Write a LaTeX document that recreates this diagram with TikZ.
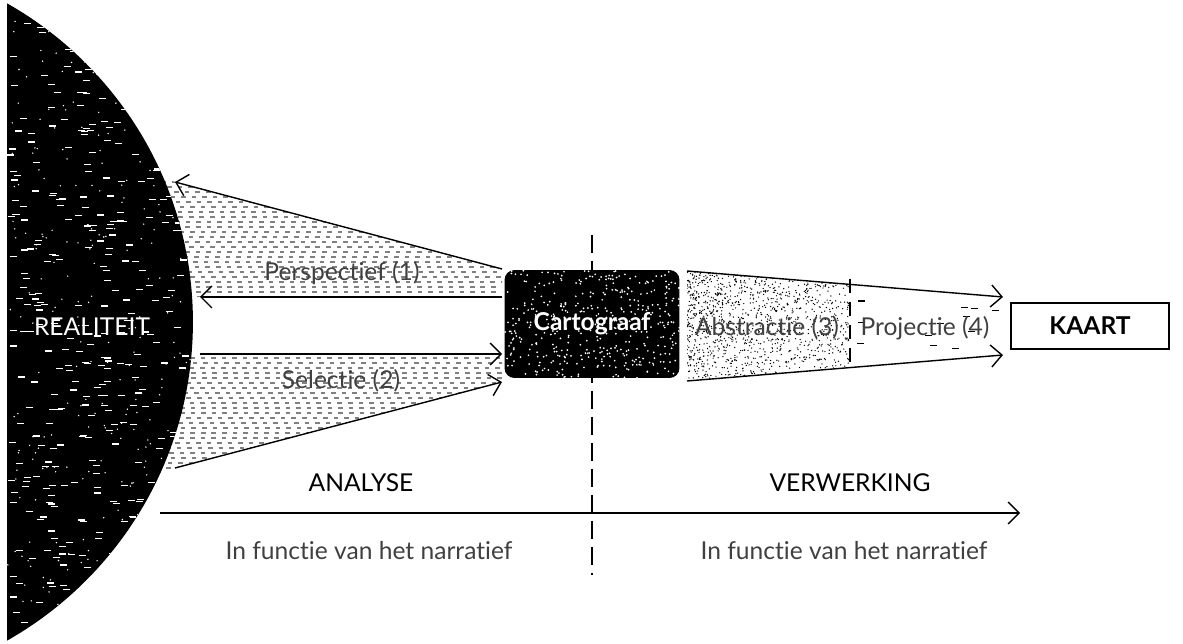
\documentclass[tikz,border=0pt]{standalone}
\usepackage{fontspec}
\setmainfont{Lato}[Ligatures=NoCommon]
\usetikzlibrary{arrows.meta}
\tikzset{
  arr/.style={-{Straight Barb[length=0.22cm,width=0.44cm]}, line width=0.8pt},
  lbl/.style={font=\fontsize{14}{17}\selectfont, text=black!75},
  rows/.style={black!50, line width=0.6pt, dash pattern=on 2.6pt off 3.4pt},
  box/.style={minimum width=3.5cm, minimum height=2.16cm, rounded corners=0.2cm},
}
\begin{document}
\begin{tikzpicture}[x=0.02cm, y=-0.02cm]
\useasboundingbox (0,0) rectangle (1183,644);
\pgfmathsetseed{11}
\coordinate (pa) at (175,182);
\coordinate (pb) at (502,269);
\coordinate (pc) at (200,297);
\coordinate (pd) at (502,297);
\coordinate (sa) at (200,354);
\coordinate (sb) at (502,354);
\coordinate (sc) at (175,468);
\coordinate (sd) at (502,382);
\coordinate (aa) at (687,271);
\coordinate (ab) at (1003,297);
\coordinate (ac) at (687,381);
\coordinate (ad) at (1003,355);
\coordinate (ta) at (160,513);
\coordinate (tb) at (1020,513);
\coordinate (va) at (592,235);
\coordinate (vb) at (592,575);
\coordinate (wa) at (850,279);
\coordinate (wb) at (850,362);
\begin{scope}
\clip (150,175) -- (pb) -- (pd) -- (150,297) -- cycle;
\foreach \y in {177,182,...,300} {
  \pgfmathsetmacro\ph{rnd*6}
  \draw[rows, dash phase=\ph pt] (150,\y) -- (510,\y);
}
\end{scope}
\begin{scope}
\clip (150,354) -- (sb) -- (sd) -- (sc) -- (150,475) -- cycle;
\foreach \y in {358,363,...,476} {
  \pgfmathsetmacro\ph{rnd*6}
  \draw[rows, dash phase=\ph pt] (150,\y) -- (510,\y);
}
\end{scope}
\draw[arr] (pb) -- (pa);
\draw[arr] (pd) -- (pc);
\draw[arr] (sa) -- (sb);
\draw[arr] (sc) -- (sd);
\begin{scope}
\clip (7,0) rectangle (300,644);
\clip (-173,322) circle[radius=7.32cm];
\fill (0,0) rectangle (300,644);
\foreach \i in {1,...,420}
  \fill[white] ({7+190*rnd},{644*rnd}) rectangle ++(7,1.2);
\foreach \i in {1,...,300}
  \fill[white] ({7+190*rnd},{644*rnd}) circle[radius=0.45pt];
\end{scope}
\draw[line width=0.6pt, dash pattern=on 0.36cm off 0.16cm] (va) -- (vb);
\begin{scope}
\clip (aa) -- (ab) -- (ad) -- (ac) -- cycle;
\foreach \i in {1,...,1300}
  \fill ({687+163*rnd^1.3},{271+110*rnd}) circle[radius=0.4pt];
\foreach \i in {1,...,14}
  \fill ({856+140*rnd},{285+65*rnd}) rectangle ++(7,1.2);
\end{scope}
\draw[line width=0.6pt, dash pattern=on 0.28cm off 0.18cm] (wa) -- (wb);
\draw[arr] (aa) -- (ab);
\draw[arr] (ac) -- (ad);
\node[box, fill=black, text=white, font=\fontsize{14}{17}\selectfont\bfseries] (cartograaf) at (592,324) {Cartograaf};
\begin{scope}
\clip[rounded corners=0.2cm] (cartograaf.south west) rectangle (cartograaf.north east);
\foreach \i in {1,...,420}
  \fill[white] ({505+175*rnd},{270+108*rnd}) circle[radius=0.55pt];
\end{scope}
\node[draw, line width=0.8pt, minimum width=3.16cm, minimum height=0.92cm, font=\fontsize{14}{17}\selectfont\bfseries] (kaart) at (1090,326) {KAART};
\node[lbl, text=white] (realiteit) at (92,327) {REALITEIT};
\node[lbl] (perspectief) at (342,273) {Perspectief (1)};
\node[lbl] (selectie) at (341,381) {Selectie (2)};
\node[lbl] (abstractie) at (767,328) {Abstractie (3)};
\node[lbl] (projectie) at (925,328) {Projectie (4)};
\node[lbl, text=black] (analyse) at (361,483) {ANALYSE};
\node[lbl, text=black] (verwerking) at (850,483) {VERWERKING};
\node[lbl] (narratief1) at (369,551) {In functie van het narratief};
\node[lbl] (narratief2) at (844,551) {In functie van het narratief};
\draw[arr] (ta) -- (tb);
\end{tikzpicture}
\end{document}
